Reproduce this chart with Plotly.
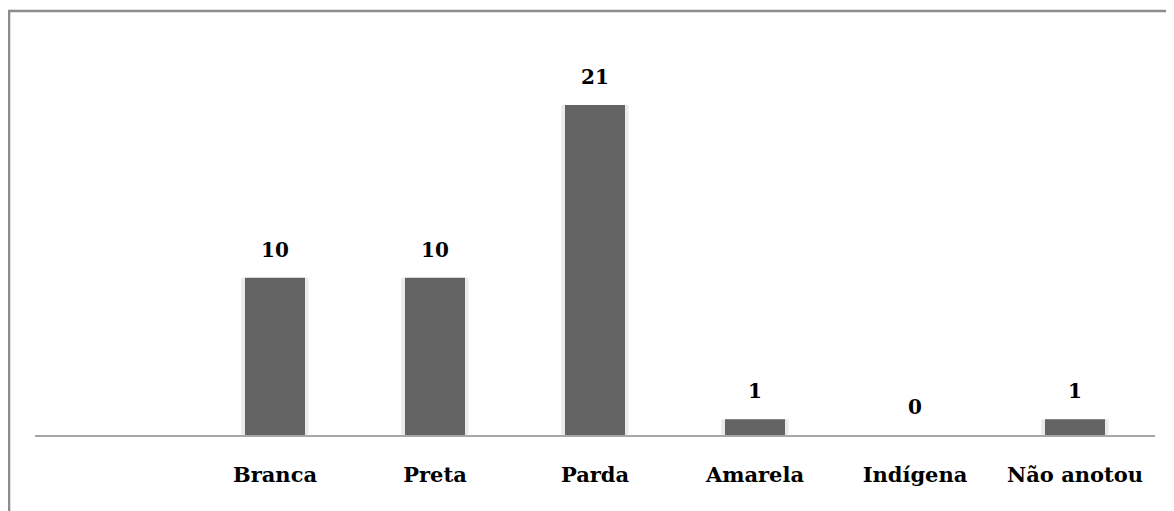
import plotly.graph_objects as go

categories = ["Branca", "Preta", "Parda", "Amarela", "Indígena", "Não anotou"]
values = [10, 10, 21, 1, 0, 1]

positions = list(range(len(categories)))
FONT = "DejaVu Serif, serif"

fig = go.Figure()

# soft light halo behind bars
fig.add_trace(go.Bar(
    x=positions, y=values, width=0.42,
    marker=dict(color="#eaeaea", line=dict(width=0)),
    hoverinfo="skip", showlegend=False,
))
fig.add_trace(go.Bar(
    x=positions, y=values, width=0.375,
    marker=dict(color="#636363", line=dict(width=0)),
    showlegend=False,
))

annotations = [
    dict(x=p, y=v, xref="x", yref="y", text="<b>%d</b>" % v, showarrow=False,
         yanchor="bottom", xanchor="center", yshift=14,
         font=dict(family=FONT, size=20, color="#000000"))
    for p, v in zip(positions, values)
]

fig.update_layout(
    width=1166, height=503,
    margin=dict(l=27, r=19, t=22, b=76),
    paper_bgcolor="white", plot_bgcolor="white",
    barmode="overlay",
    annotations=annotations,
    xaxis=dict(
        tickmode="array", tickvals=positions,
        ticktext=["<b>%s</b>" % c for c in categories],
        range=[-1.5, 5.5], showgrid=False, zeroline=False,
        showline=True, linecolor="#a6a6a6", linewidth=2,
        ticks="", ticklabelstandoff=20,
        tickfont=dict(family=FONT, size=21, color="#000000"),
    ),
    yaxis=dict(range=[0, 25.77], visible=False, showgrid=False, zeroline=False),
    shapes=[dict(
        type="rect", xref="paper", yref="paper",
        x0=-0.0232, x1=1.3, y0=-0.6, y1=1.0469,
        line=dict(color="#8c8c8c", width=2.5), fillcolor="rgba(0,0,0,0)",
        layer="above",
    )],
)

fig.write_html("out.html")
